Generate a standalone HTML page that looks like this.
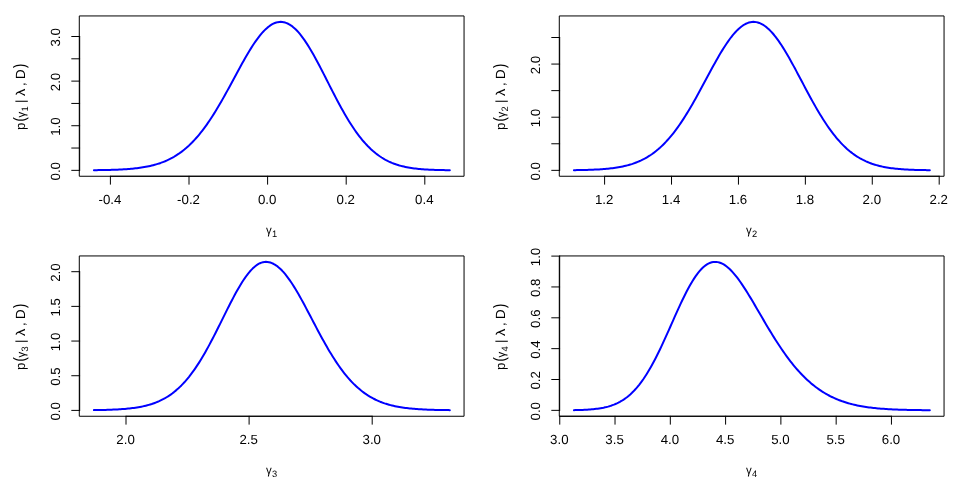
<!DOCTYPE html>
<html><head><meta charset="utf-8"><title>plot</title>
<style>
html,body{margin:0;padding:0;background:#fff;}
body{width:960px;height:480px;overflow:hidden;}
svg{display:block;}
text{font-family:"Liberation Sans",sans-serif;fill:#000;text-rendering:geometricPrecision;}
.t{font-size:13.28px;}
.s{font-size:9.3px;}
.b{font-size:16.6px;}
.ln{stroke:#000;stroke-width:1;fill:none;stroke-linecap:round;stroke-linejoin:round;}
.cv{stroke:#0000ff;stroke-width:2;fill:none;stroke-linecap:round;stroke-linejoin:round;}
</style></head><body>
<svg style="will-change:transform" width="960" height="480" viewBox="0 0 960 480">
<rect x="0" y="0" width="960" height="480" fill="#ffffff"/>

<g>
<path class="cv" d="M93.92 170.18 L95.4 170.16 L96.88 170.14 L98.37 170.12 L99.85 170.1 L101.33 170.08 L102.81 170.06 L104.3 170.03 L105.78 170 L107.26 169.96 L108.75 169.93 L110.23 169.89 L111.71 169.85 L113.19 169.8 L114.68 169.75 L116.16 169.69 L117.64 169.63 L119.13 169.56 L120.61 169.49 L122.09 169.41 L123.58 169.33 L125.06 169.23 L126.54 169.13 L128.02 169.02 L129.51 168.91 L130.99 168.78 L132.47 168.64 L133.96 168.49 L135.44 168.33 L136.92 168.16 L138.41 167.97 L139.89 167.77 L141.37 167.56 L142.85 167.33 L144.34 167.08 L145.82 166.82 L147.3 166.53 L148.79 166.23 L150.27 165.9 L151.75 165.55 L153.23 165.18 L154.72 164.78 L156.2 164.36 L157.68 163.91 L159.17 163.43 L160.65 162.93 L162.13 162.39 L163.62 161.81 L165.1 161.21 L166.58 160.56 L168.06 159.88 L169.55 159.17 L171.03 158.41 L172.51 157.61 L174 156.76 L175.48 155.87 L176.96 154.94 L178.45 153.96 L179.93 152.93 L181.41 151.85 L182.89 150.71 L184.38 149.53 L185.86 148.29 L187.34 146.99 L188.83 145.64 L190.31 144.23 L191.79 142.77 L193.27 141.24 L194.76 139.66 L196.24 138.01 L197.72 136.31 L199.21 134.54 L200.69 132.72 L202.17 130.83 L203.66 128.88 L205.14 126.88 L206.62 124.81 L208.1 122.69 L209.59 120.51 L211.07 118.28 L212.55 115.99 L214.04 113.65 L215.52 111.25 L217 108.81 L218.49 106.33 L219.97 103.8 L221.45 101.23 L222.93 98.63 L224.42 95.99 L225.9 93.32 L227.38 90.63 L228.87 87.92 L230.35 85.19 L231.83 82.44 L233.31 79.69 L234.8 76.94 L236.28 74.19 L237.76 71.45 L239.25 68.73 L240.73 66.02 L242.21 63.34 L243.7 60.69 L245.18 58.08 L246.66 55.52 L248.14 53 L249.63 50.54 L251.11 48.15 L252.59 45.82 L254.08 43.57 L255.56 41.4 L257.04 39.31 L258.53 37.32 L260.01 35.43 L261.49 33.64 L262.97 31.96 L264.46 30.4 L265.94 28.95 L267.42 27.63 L268.91 26.44 L270.39 25.38 L271.87 24.45 L273.35 23.66 L274.84 23.01 L276.32 22.51 L277.8 22.15 L279.29 21.94 L280.77 21.87 L282.25 21.96 L283.74 22.19 L285.22 22.57 L286.7 23.1 L288.18 23.78 L289.67 24.6 L291.15 25.57 L292.63 26.67 L294.12 27.91 L295.6 29.29 L297.08 30.79 L298.57 32.43 L300.05 34.18 L301.53 36.05 L303.01 38.04 L304.5 40.13 L305.98 42.32 L307.46 44.6 L308.95 46.98 L310.43 49.43 L311.91 51.96 L313.39 54.57 L314.88 57.23 L316.36 59.95 L317.84 62.72 L319.33 65.53 L320.81 68.38 L322.29 71.25 L323.78 74.15 L325.26 77.07 L326.74 79.99 L328.22 82.91 L329.71 85.83 L331.19 88.75 L332.67 91.64 L334.16 94.52 L335.64 97.37 L337.12 100.19 L338.61 102.98 L340.09 105.72 L341.57 108.42 L343.05 111.08 L344.54 113.68 L346.02 116.23 L347.5 118.72 L348.99 121.15 L350.47 123.51 L351.95 125.82 L353.43 128.05 L354.92 130.22 L356.4 132.32 L357.88 134.35 L359.37 136.31 L360.85 138.2 L362.33 140.01 L363.82 141.76 L365.3 143.44 L366.78 145.04 L368.26 146.58 L369.75 148.05 L371.23 149.45 L372.71 150.78 L374.2 152.05 L375.68 153.26 L377.16 154.41 L378.65 155.49 L380.13 156.52 L381.61 157.49 L383.09 158.41 L384.58 159.27 L386.06 160.08 L387.54 160.84 L389.03 161.56 L390.51 162.23 L391.99 162.86 L393.47 163.45 L394.96 164 L396.44 164.51 L397.92 164.98 L399.41 165.43 L400.89 165.84 L402.37 166.22 L403.86 166.57 L405.34 166.9 L406.82 167.2 L408.3 167.48 L409.79 167.74 L411.27 167.97 L412.75 168.19 L414.24 168.39 L415.72 168.57 L417.2 168.74 L418.69 168.89 L420.17 169.03 L421.65 169.16 L423.13 169.27 L424.62 169.38 L426.1 169.47 L427.58 169.56 L429.07 169.64 L430.55 169.71 L432.03 169.78 L433.51 169.83 L435 169.89 L436.48 169.93 L437.96 169.98 L439.45 170.01 L440.93 170.05 L442.41 170.08 L443.9 170.11 L445.38 170.13 L446.86 170.15 L448.34 170.17 L449.83 170.19"/>
<path class="ln" d="M110.4 176.26 H424.8 M110.4 176.26 V184.22 M189 176.26 V184.22 M267.6 176.26 V184.22 M346.2 176.26 V184.22 M424.8 176.26 V184.22"/>
<text class="t" text-anchor="middle" x="109.95" y="204.34">-0.4</text>
<text class="t" text-anchor="middle" x="188.55" y="204.34">-0.2</text>
<text class="t" text-anchor="middle" x="267.15" y="204.34">0.0</text>
<text class="t" text-anchor="middle" x="345.75" y="204.34">0.2</text>
<text class="t" text-anchor="middle" x="424.35" y="204.34">0.4</text>
<path class="ln" d="M79.68 170.35 V36.5 M79.68 170.35 H71.71 M79.68 148.04 H71.71 M79.68 125.73 H71.71 M79.68 103.43 H71.71 M79.68 81.12 H71.71 M79.68 58.81 H71.71 M79.68 36.5 H71.71"/>
<text class="t" text-anchor="middle" transform="translate(60.06 171.25) rotate(-90)">0.0</text>
<text class="t" text-anchor="middle" transform="translate(60.06 126.63) rotate(-90)">1.0</text>
<text class="t" text-anchor="middle" transform="translate(60.06 82.02) rotate(-90)">2.0</text>
<text class="t" text-anchor="middle" transform="translate(60.06 37.4) rotate(-90)">3.0</text>
<path class="ln" d="M79.68 15.94 H464.06 V176.26 H79.68 Z"/>
<text font-size="11.7" transform="translate(266.05 234.3) scale(0.98 1)">γ</text>
<text class="s" x="271.9" y="236.8">1</text>
<text font-size="13.28" transform="translate(25.15 130.09) rotate(-90)">p</text>
<text font-size="16.5" transform="translate(25.15 121.45) rotate(-90) scale(0.78 1)">(</text>
<text font-size="11.6" transform="translate(25.15 117.4) rotate(-90) scale(0.98 1)">γ</text>
<text font-size="9.3" transform="translate(27.7 111.4) rotate(-90)">1</text>
<text font-size="13.28" transform="translate(25.15 103) rotate(-90)">|</text>
<text font-size="12.8" transform="translate(25.15 95.9) rotate(-90) scale(1.14 1)">λ</text>
<text font-size="13.28" transform="translate(25.15 86.05) rotate(-90)">,</text>
<text font-size="13.28" transform="translate(25.15 78.9) rotate(-90)">D</text>
<text font-size="16.5" transform="translate(25.15 67.9) rotate(-90) scale(0.78 1)">)</text>
</g>
<g>
<path class="cv" d="M573.92 170.16 L575.4 170.14 L576.88 170.12 L578.37 170.09 L579.85 170.07 L581.33 170.04 L582.81 170.01 L584.3 169.97 L585.78 169.93 L587.26 169.89 L588.75 169.85 L590.23 169.8 L591.71 169.74 L593.19 169.68 L594.68 169.61 L596.16 169.54 L597.64 169.46 L599.13 169.38 L600.61 169.28 L602.09 169.18 L603.58 169.07 L605.06 168.95 L606.54 168.82 L608.02 168.67 L609.51 168.52 L610.99 168.35 L612.47 168.17 L613.96 167.97 L615.44 167.76 L616.92 167.53 L618.41 167.29 L619.89 167.02 L621.37 166.74 L622.85 166.43 L624.34 166.1 L625.82 165.75 L627.3 165.37 L628.79 164.97 L630.27 164.54 L631.75 164.08 L633.23 163.58 L634.72 163.06 L636.2 162.5 L637.68 161.91 L639.17 161.28 L640.65 160.61 L642.13 159.9 L643.62 159.15 L645.1 158.36 L646.58 157.52 L648.06 156.64 L649.55 155.71 L651.03 154.73 L652.51 153.7 L654 152.61 L655.48 151.47 L656.96 150.28 L658.45 149.03 L659.93 147.73 L661.41 146.36 L662.89 144.94 L664.38 143.45 L665.86 141.91 L667.34 140.3 L668.83 138.63 L670.31 136.9 L671.79 135.11 L673.27 133.26 L674.76 131.34 L676.24 129.36 L677.72 127.32 L679.21 125.22 L680.69 123.06 L682.17 120.85 L683.66 118.58 L685.14 116.25 L686.62 113.87 L688.1 111.45 L689.59 108.97 L691.07 106.45 L692.55 103.89 L694.04 101.28 L695.52 98.65 L697 95.98 L698.49 93.28 L699.97 90.56 L701.45 87.83 L702.93 85.07 L704.42 82.31 L705.9 79.54 L707.38 76.78 L708.87 74.02 L710.35 71.27 L711.83 68.54 L713.31 65.83 L714.8 63.15 L716.28 60.5 L717.76 57.9 L719.25 55.34 L720.73 52.84 L722.21 50.39 L723.7 48.01 L725.18 45.7 L726.66 43.46 L728.14 41.31 L729.63 39.25 L731.11 37.27 L732.59 35.4 L734.08 33.63 L735.56 31.97 L737.04 30.42 L738.53 28.99 L740.01 27.69 L741.49 26.5 L742.97 25.45 L744.46 24.52 L745.94 23.73 L747.42 23.08 L748.91 22.57 L750.39 22.2 L751.87 21.96 L753.35 21.87 L754.84 21.93 L756.32 22.12 L757.8 22.46 L759.29 22.94 L760.77 23.56 L762.25 24.32 L763.74 25.21 L765.22 26.24 L766.7 27.39 L768.18 28.68 L769.67 30.09 L771.15 31.62 L772.63 33.26 L774.12 35.02 L775.6 36.89 L777.08 38.85 L778.57 40.92 L780.05 43.07 L781.53 45.31 L783.01 47.63 L784.5 50.03 L785.98 52.49 L787.46 55.02 L788.95 57.6 L790.43 60.23 L791.91 62.9 L793.39 65.61 L794.88 68.35 L796.36 71.12 L797.84 73.91 L799.33 76.71 L800.81 79.52 L802.29 82.33 L803.78 85.14 L805.26 87.93 L806.74 90.72 L808.22 93.49 L809.71 96.23 L811.19 98.94 L812.67 101.63 L814.16 104.27 L815.64 106.88 L817.12 109.45 L818.61 111.97 L820.09 114.44 L821.57 116.85 L823.05 119.22 L824.54 121.53 L826.02 123.77 L827.5 125.96 L828.99 128.09 L830.47 130.16 L831.95 132.16 L833.43 134.1 L834.92 135.98 L836.4 137.78 L837.88 139.53 L839.37 141.21 L840.85 142.83 L842.33 144.38 L843.82 145.87 L845.3 147.29 L846.78 148.66 L848.26 149.96 L849.75 151.21 L851.23 152.39 L852.71 153.52 L854.2 154.59 L855.68 155.61 L857.16 156.58 L858.65 157.5 L860.13 158.37 L861.61 159.19 L863.09 159.96 L864.58 160.69 L866.06 161.38 L867.54 162.02 L869.03 162.63 L870.51 163.2 L871.99 163.74 L873.47 164.24 L874.96 164.7 L876.44 165.14 L877.92 165.55 L879.41 165.93 L880.89 166.28 L882.37 166.61 L883.86 166.92 L885.34 167.2 L886.82 167.46 L888.3 167.71 L889.79 167.93 L891.27 168.14 L892.75 168.33 L894.24 168.51 L895.72 168.67 L897.2 168.82 L898.69 168.96 L900.17 169.08 L901.65 169.2 L903.13 169.3 L904.62 169.4 L906.1 169.49 L907.58 169.57 L909.07 169.64 L910.55 169.71 L912.03 169.77 L913.51 169.83 L915 169.88 L916.48 169.92 L917.96 169.96 L919.45 170 L920.93 170.03 L922.41 170.06 L923.9 170.09 L925.38 170.12 L926.86 170.14 L928.34 170.16 L929.83 170.18"/>
<path class="ln" d="M604.6 176.26 H939.2 M604.6 176.26 V184.22 M671.52 176.26 V184.22 M738.44 176.26 V184.22 M805.36 176.26 V184.22 M872.28 176.26 V184.22 M939.2 176.26 V184.22"/>
<text class="t" text-anchor="middle" x="604.15" y="204.34">1.2</text>
<text class="t" text-anchor="middle" x="671.07" y="204.34">1.4</text>
<text class="t" text-anchor="middle" x="737.99" y="204.34">1.6</text>
<text class="t" text-anchor="middle" x="804.91" y="204.34">1.8</text>
<text class="t" text-anchor="middle" x="871.83" y="204.34">2.0</text>
<text class="t" text-anchor="middle" x="938.75" y="204.34">2.2</text>
<path class="ln" d="M559.68 170.35 V37.5 M559.68 170.35 H551.71 M559.68 143.78 H551.71 M559.68 117.21 H551.71 M559.68 90.64 H551.71 M559.68 64.07 H551.71 M559.68 37.5 H551.71"/>
<text class="t" text-anchor="middle" transform="translate(540.06 171.25) rotate(-90)">0.0</text>
<text class="t" text-anchor="middle" transform="translate(540.06 118.11) rotate(-90)">1.0</text>
<text class="t" text-anchor="middle" transform="translate(540.06 64.97) rotate(-90)">2.0</text>
<path class="ln" d="M559.68 15.94 H944.06 V176.26 H559.68 Z"/>
<text font-size="11.7" transform="translate(746.05 234.3) scale(0.98 1)">γ</text>
<text class="s" x="751.9" y="236.8">2</text>
<text font-size="13.28" transform="translate(505.15 130.09) rotate(-90)">p</text>
<text font-size="16.5" transform="translate(505.15 121.45) rotate(-90) scale(0.78 1)">(</text>
<text font-size="11.6" transform="translate(505.15 117.4) rotate(-90) scale(0.98 1)">γ</text>
<text font-size="9.3" transform="translate(507.7 111.4) rotate(-90)">2</text>
<text font-size="13.28" transform="translate(505.15 103) rotate(-90)">|</text>
<text font-size="12.8" transform="translate(505.15 95.9) rotate(-90) scale(1.14 1)">λ</text>
<text font-size="13.28" transform="translate(505.15 86.05) rotate(-90)">,</text>
<text font-size="13.28" transform="translate(505.15 78.9) rotate(-90)">D</text>
<text font-size="16.5" transform="translate(505.15 67.9) rotate(-90) scale(0.78 1)">)</text>
</g>
<g>
<path class="cv" d="M93.92 410.12 L95.4 410.1 L96.88 410.07 L98.37 410.05 L99.85 410.02 L101.33 409.99 L102.81 409.96 L104.3 409.92 L105.78 409.88 L107.26 409.84 L108.75 409.79 L110.23 409.74 L111.71 409.68 L113.19 409.62 L114.68 409.55 L116.16 409.48 L117.64 409.4 L119.13 409.31 L120.61 409.22 L122.09 409.12 L123.58 409.01 L125.06 408.88 L126.54 408.75 L128.02 408.61 L129.51 408.46 L130.99 408.29 L132.47 408.11 L133.96 407.91 L135.44 407.7 L136.92 407.47 L138.41 407.23 L139.89 406.96 L141.37 406.68 L142.85 406.37 L144.34 406.04 L145.82 405.69 L147.3 405.31 L148.79 404.9 L150.27 404.46 L151.75 404 L153.23 403.5 L154.72 402.96 L156.2 402.39 L157.68 401.79 L159.17 401.14 L160.65 400.45 L162.13 399.72 L163.62 398.95 L165.1 398.13 L166.58 397.25 L168.06 396.33 L169.55 395.35 L171.03 394.32 L172.51 393.24 L174 392.09 L175.48 390.88 L176.96 389.61 L178.45 388.28 L179.93 386.88 L181.41 385.42 L182.89 383.89 L184.38 382.29 L185.86 380.61 L187.34 378.87 L188.83 377.06 L190.31 375.17 L191.79 373.21 L193.27 371.18 L194.76 369.08 L196.24 366.91 L197.72 364.66 L199.21 362.35 L200.69 359.97 L202.17 357.52 L203.66 355.01 L205.14 352.43 L206.62 349.8 L208.1 347.11 L209.59 344.37 L211.07 341.58 L212.55 338.75 L214.04 335.88 L215.52 332.97 L217 330.03 L218.49 327.07 L219.97 324.09 L221.45 321.1 L222.93 318.1 L224.42 315.11 L225.9 312.12 L227.38 309.15 L228.87 306.21 L230.35 303.29 L231.83 300.42 L233.31 297.59 L234.8 294.81 L236.28 292.1 L237.76 289.45 L239.25 286.89 L240.73 284.41 L242.21 282.03 L243.7 279.75 L245.18 277.57 L246.66 275.52 L248.14 273.58 L249.63 271.78 L251.11 270.11 L252.59 268.58 L254.08 267.2 L255.56 265.97 L257.04 264.89 L258.53 263.97 L260.01 263.22 L261.49 262.63 L262.97 262.21 L264.46 261.96 L265.94 261.87 L267.42 261.95 L268.91 262.18 L270.39 262.56 L271.87 263.09 L273.35 263.77 L274.84 264.6 L276.32 265.57 L277.8 266.67 L279.29 267.92 L280.77 269.3 L282.25 270.81 L283.74 272.44 L285.22 274.19 L286.7 276.05 L288.18 278.03 L289.67 280.1 L291.15 282.27 L292.63 284.53 L294.12 286.88 L295.6 289.3 L297.08 291.79 L298.57 294.35 L300.05 296.97 L301.53 299.63 L303.01 302.34 L304.5 305.08 L305.98 307.86 L307.46 310.66 L308.95 313.48 L310.43 316.31 L311.91 319.14 L313.39 321.97 L314.88 324.8 L316.36 327.61 L317.84 330.41 L319.33 333.19 L320.81 335.93 L322.29 338.65 L323.78 341.33 L325.26 343.98 L326.74 346.58 L328.22 349.13 L329.71 351.64 L331.19 354.09 L332.67 356.49 L334.16 358.83 L335.64 361.11 L337.12 363.34 L338.61 365.5 L340.09 367.6 L341.57 369.64 L343.05 371.61 L344.54 373.52 L346.02 375.36 L347.5 377.14 L348.99 378.85 L350.47 380.51 L351.95 382.09 L353.43 383.62 L354.92 385.08 L356.4 386.48 L357.88 387.82 L359.37 389.1 L360.85 390.33 L362.33 391.5 L363.82 392.61 L365.3 393.67 L366.78 394.68 L368.26 395.64 L369.75 396.55 L371.23 397.41 L372.71 398.23 L374.2 399 L375.68 399.74 L377.16 400.43 L378.65 401.08 L380.13 401.7 L381.61 402.28 L383.09 402.82 L384.58 403.34 L386.06 403.82 L387.54 404.27 L389.03 404.7 L390.51 405.1 L391.99 405.47 L393.47 405.82 L394.96 406.15 L396.44 406.45 L397.92 406.74 L399.41 407 L400.89 407.25 L402.37 407.48 L403.86 407.7 L405.34 407.9 L406.82 408.08 L408.3 408.26 L409.79 408.42 L411.27 408.57 L412.75 408.71 L414.24 408.83 L415.72 408.95 L417.2 409.06 L418.69 409.16 L420.17 409.26 L421.65 409.34 L423.13 409.42 L424.62 409.5 L426.1 409.57 L427.58 409.63 L429.07 409.69 L430.55 409.74 L432.03 409.79 L433.51 409.83 L435 409.88 L436.48 409.91 L437.96 409.95 L439.45 409.98 L440.93 410.01 L442.41 410.04 L443.9 410.06 L445.38 410.08 L446.86 410.1 L448.34 410.12 L449.83 410.14"/>
<path class="ln" d="M126 416.26 H372.2 M126 416.26 V424.22 M249.1 416.26 V424.22 M372.2 416.26 V424.22"/>
<text class="t" text-anchor="middle" x="125.55" y="444.34">2.0</text>
<text class="t" text-anchor="middle" x="248.65" y="444.34">2.5</text>
<text class="t" text-anchor="middle" x="371.75" y="444.34">3.0</text>
<path class="ln" d="M79.68 410.4 V271.7 M79.68 410.4 H71.71 M79.68 375.72 H71.71 M79.68 341.05 H71.71 M79.68 306.38 H71.71 M79.68 271.7 H71.71"/>
<text class="t" text-anchor="middle" transform="translate(60.06 411.3) rotate(-90)">0.0</text>
<text class="t" text-anchor="middle" transform="translate(60.06 376.62) rotate(-90)">0.5</text>
<text class="t" text-anchor="middle" transform="translate(60.06 341.95) rotate(-90)">1.0</text>
<text class="t" text-anchor="middle" transform="translate(60.06 307.27) rotate(-90)">1.5</text>
<text class="t" text-anchor="middle" transform="translate(60.06 272.6) rotate(-90)">2.0</text>
<path class="ln" d="M79.68 255.94 H464.06 V416.26 H79.68 Z"/>
<text font-size="11.7" transform="translate(266.05 474.3) scale(0.98 1)">γ</text>
<text class="s" x="271.9" y="476.8">3</text>
<text font-size="13.28" transform="translate(25.15 370.09) rotate(-90)">p</text>
<text font-size="16.5" transform="translate(25.15 361.45) rotate(-90) scale(0.78 1)">(</text>
<text font-size="11.6" transform="translate(25.15 357.4) rotate(-90) scale(0.98 1)">γ</text>
<text font-size="9.3" transform="translate(27.7 351.4) rotate(-90)">3</text>
<text font-size="13.28" transform="translate(25.15 343) rotate(-90)">|</text>
<text font-size="12.8" transform="translate(25.15 335.9) rotate(-90) scale(1.14 1)">λ</text>
<text font-size="13.28" transform="translate(25.15 326.05) rotate(-90)">,</text>
<text font-size="13.28" transform="translate(25.15 318.9) rotate(-90)">D</text>
<text font-size="16.5" transform="translate(25.15 307.9) rotate(-90) scale(0.78 1)">)</text>
</g>
<g>
<path class="cv" d="M573.92 410.13 L575.4 410.1 L576.88 410.07 L578.37 410.03 L579.85 409.99 L581.33 409.93 L582.81 409.88 L584.3 409.81 L585.78 409.73 L587.26 409.65 L588.75 409.55 L590.23 409.44 L591.71 409.32 L593.19 409.19 L594.68 409.03 L596.16 408.86 L597.64 408.67 L599.13 408.46 L600.61 408.22 L602.09 407.96 L603.58 407.67 L605.06 407.34 L606.54 406.99 L608.02 406.6 L609.51 406.17 L610.99 405.7 L612.47 405.18 L613.96 404.62 L615.44 404.01 L616.92 403.34 L618.41 402.62 L619.89 401.84 L621.37 400.99 L622.85 400.08 L624.34 399.1 L625.82 398.05 L627.3 396.92 L628.79 395.71 L630.27 394.42 L631.75 393.04 L633.23 391.58 L634.72 390.03 L636.2 388.38 L637.68 386.65 L639.17 384.82 L640.65 382.89 L642.13 380.87 L643.62 378.75 L645.1 376.53 L646.58 374.22 L648.06 371.82 L649.55 369.32 L651.03 366.73 L652.51 364.05 L654 361.29 L655.48 358.45 L656.96 355.53 L658.45 352.53 L659.93 349.47 L661.41 346.35 L662.89 343.18 L664.38 339.95 L665.86 336.69 L667.34 333.39 L668.83 330.07 L670.31 326.73 L671.79 323.38 L673.27 320.04 L674.76 316.7 L676.24 313.39 L677.72 310.1 L679.21 306.86 L680.69 303.66 L682.17 300.53 L683.66 297.46 L685.14 294.47 L686.62 291.56 L688.1 288.76 L689.59 286.05 L691.07 283.46 L692.55 280.99 L694.04 278.64 L695.52 276.43 L697 274.36 L698.49 272.44 L699.97 270.66 L701.45 269.04 L702.93 267.58 L704.42 266.29 L705.9 265.15 L707.38 264.19 L708.87 263.39 L710.35 262.76 L711.83 262.3 L713.31 262.01 L714.8 261.88 L716.28 261.92 L717.76 262.12 L719.25 262.47 L720.73 262.99 L722.21 263.65 L723.7 264.46 L725.18 265.41 L726.66 266.5 L728.14 267.73 L729.63 269.07 L731.11 270.54 L732.59 272.12 L734.08 273.81 L735.56 275.6 L737.04 277.49 L738.53 279.46 L740.01 281.51 L741.49 283.64 L742.97 285.84 L744.46 288.1 L745.94 290.41 L747.42 292.78 L748.91 295.18 L750.39 297.62 L751.87 300.1 L753.35 302.6 L754.84 305.12 L756.32 307.65 L757.8 310.2 L759.29 312.74 L760.77 315.29 L762.25 317.84 L763.74 320.38 L765.22 322.9 L766.7 325.41 L768.18 327.9 L769.67 330.37 L771.15 332.81 L772.63 335.23 L774.12 337.61 L775.6 339.97 L777.08 342.28 L778.57 344.56 L780.05 346.8 L781.53 349 L783.01 351.16 L784.5 353.28 L785.98 355.35 L787.46 357.37 L788.95 359.35 L790.43 361.29 L791.91 363.17 L793.39 365.01 L794.88 366.81 L796.36 368.55 L797.84 370.25 L799.33 371.89 L800.81 373.49 L802.29 375.05 L803.78 376.55 L805.26 378.01 L806.74 379.43 L808.22 380.79 L809.71 382.11 L811.19 383.39 L812.67 384.62 L814.16 385.81 L815.64 386.96 L817.12 388.06 L818.61 389.13 L820.09 390.15 L821.57 391.14 L823.05 392.08 L824.54 392.99 L826.02 393.86 L827.5 394.7 L828.99 395.5 L830.47 396.27 L831.95 397.01 L833.43 397.71 L834.92 398.38 L836.4 399.03 L837.88 399.64 L839.37 400.23 L840.85 400.78 L842.33 401.32 L843.82 401.82 L845.3 402.31 L846.78 402.77 L848.26 403.2 L849.75 403.62 L851.23 404.01 L852.71 404.39 L854.2 404.74 L855.68 405.08 L857.16 405.4 L858.65 405.7 L860.13 405.98 L861.61 406.25 L863.09 406.51 L864.58 406.75 L866.06 406.98 L867.54 407.19 L869.03 407.4 L870.51 407.59 L871.99 407.77 L873.47 407.94 L874.96 408.09 L876.44 408.24 L877.92 408.38 L879.41 408.52 L880.89 408.64 L882.37 408.76 L883.86 408.87 L885.34 408.97 L886.82 409.06 L888.3 409.15 L889.79 409.24 L891.27 409.31 L892.75 409.39 L894.24 409.46 L895.72 409.52 L897.2 409.58 L898.69 409.63 L900.17 409.68 L901.65 409.73 L903.13 409.78 L904.62 409.82 L906.1 409.86 L907.58 409.89 L909.07 409.93 L910.55 409.96 L912.03 409.99 L913.51 410.01 L915 410.04 L916.48 410.06 L917.96 410.08 L919.45 410.1 L920.93 410.12 L922.41 410.13 L923.9 410.15 L925.38 410.16 L926.86 410.18 L928.34 410.19 L929.83 410.2"/>
<path class="ln" d="M559.75 416.26 H891.45 M559.75 416.26 V424.22 M615.03 416.26 V424.22 M670.32 416.26 V424.22 M725.6 416.26 V424.22 M780.88 416.26 V424.22 M836.16 416.26 V424.22 M891.45 416.26 V424.22"/>
<text class="t" text-anchor="middle" x="559.3" y="444.34">3.0</text>
<text class="t" text-anchor="middle" x="614.58" y="444.34">3.5</text>
<text class="t" text-anchor="middle" x="669.87" y="444.34">4.0</text>
<text class="t" text-anchor="middle" x="725.15" y="444.34">4.5</text>
<text class="t" text-anchor="middle" x="780.43" y="444.34">5.0</text>
<text class="t" text-anchor="middle" x="835.71" y="444.34">5.5</text>
<text class="t" text-anchor="middle" x="891" y="444.34">6.0</text>
<path class="ln" d="M559.68 410.35 V256.1 M559.68 410.35 H551.71 M559.68 379.5 H551.71 M559.68 348.65 H551.71 M559.68 317.8 H551.71 M559.68 286.95 H551.71 M559.68 256.1 H551.71"/>
<text class="t" text-anchor="middle" transform="translate(540.06 411.25) rotate(-90)">0.0</text>
<text class="t" text-anchor="middle" transform="translate(540.06 380.4) rotate(-90)">0.2</text>
<text class="t" text-anchor="middle" transform="translate(540.06 349.55) rotate(-90)">0.4</text>
<text class="t" text-anchor="middle" transform="translate(540.06 318.7) rotate(-90)">0.6</text>
<text class="t" text-anchor="middle" transform="translate(540.06 287.85) rotate(-90)">0.8</text>
<text class="t" text-anchor="middle" transform="translate(540.06 257) rotate(-90)">1.0</text>
<path class="ln" d="M559.68 255.94 H944.06 V416.26 H559.68 Z"/>
<text font-size="11.7" transform="translate(746.05 474.3) scale(0.98 1)">γ</text>
<text class="s" x="751.9" y="476.8">4</text>
<text font-size="13.28" transform="translate(505.15 370.09) rotate(-90)">p</text>
<text font-size="16.5" transform="translate(505.15 361.45) rotate(-90) scale(0.78 1)">(</text>
<text font-size="11.6" transform="translate(505.15 357.4) rotate(-90) scale(0.98 1)">γ</text>
<text font-size="9.3" transform="translate(507.7 351.4) rotate(-90)">4</text>
<text font-size="13.28" transform="translate(505.15 343) rotate(-90)">|</text>
<text font-size="12.8" transform="translate(505.15 335.9) rotate(-90) scale(1.14 1)">λ</text>
<text font-size="13.28" transform="translate(505.15 326.05) rotate(-90)">,</text>
<text font-size="13.28" transform="translate(505.15 318.9) rotate(-90)">D</text>
<text font-size="16.5" transform="translate(505.15 307.9) rotate(-90) scale(0.78 1)">)</text>
</g>
</svg></body></html>
